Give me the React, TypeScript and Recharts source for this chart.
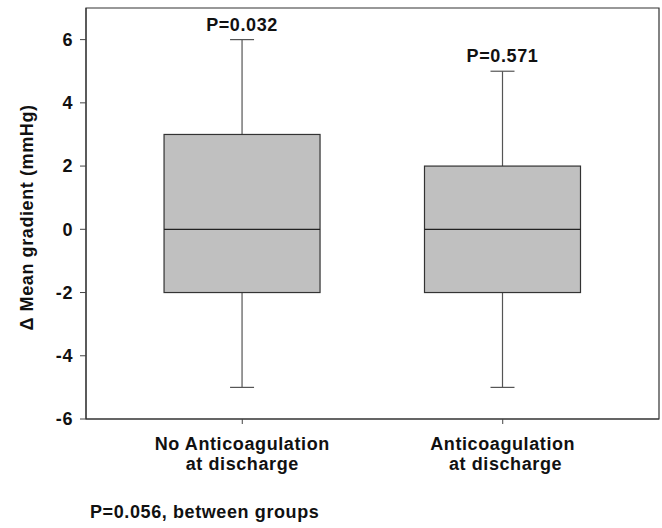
import React from "react";
import {
  ComposedChart,
  Bar,
  XAxis,
  YAxis,
  ReferenceArea,
} from "recharts";

const groupLines = [
  ["No Anticoagulation", "at discharge"],
  ["Anticoagulation", " at discharge"],
];
const groupPos = [1, 2];
const whiskerLow = [-5, -5];
const q1 = [-2, -2];
const median = [0, 0];
const q3 = [3, 2];
const whiskerHigh = [6, 5];
const pLabels = ["P=0.032", "P=0.571"];
const yTicks = [-6, -4, -2, 0, 2, 4, 6];
const footnote = "P=0.056, between groups";

const data = groupPos.map((pos, i) => ({
  pos,
  lines: groupLines[i],
  min: whiskerLow[i],
  q1: q1[i],
  median: median[i],
  q3: q3[i],
  max: whiskerHigh[i],
  p: pLabels[i],
}));

const FONT = "'Liberation Sans', Arial, sans-serif";
const textStyle = { fontFamily: FONT, fontWeight: 700, fontSize: 18, letterSpacing: 0.6 };

const BoxShape = (props: any) => {
  const { x, y, width, height, payload } = props;
  const top = Math.min(y, y + height);
  const bottom = Math.max(y, y + height);
  const { min, max } = payload;
  const toY = (v: number) => top + ((max - v) / (max - min)) * (bottom - top);
  const cx = x + width / 2;
  const cap = 12;
  return (
    <g>
      <line x1={cx} x2={cx} y1={toY(max)} y2={toY(payload.q3)} stroke="#555" strokeWidth={1.2} />
      <line x1={cx} x2={cx} y1={toY(payload.q1)} y2={toY(min)} stroke="#555" strokeWidth={1.2} />
      <line x1={cx - cap} x2={cx + cap} y1={toY(max)} y2={toY(max)} stroke="#555" strokeWidth={1.2} />
      <line x1={cx - cap} x2={cx + cap} y1={toY(min)} y2={toY(min)} stroke="#555" strokeWidth={1.2} />
      <rect
        x={x}
        y={toY(payload.q3)}
        width={width}
        height={toY(payload.q1) - toY(payload.q3)}
        fill="#c0c0c0"
        stroke="#333"
        strokeWidth={1.2}
      />
      <line x1={x} x2={x + width} y1={toY(payload.median)} y2={toY(payload.median)} stroke="#222" strokeWidth={1.2} />
      <text x={cx} y={toY(max) - 9} textAnchor="middle" fill="#111" style={textStyle}>
        {payload.p}
      </text>
    </g>
  );
};

const XTick = (props: any) => {
  const { x, y, payload } = props;
  const idx = groupPos.indexOf(payload.value);
  const lines = idx >= 0 ? groupLines[idx] : [];
  return (
    <g>
      {lines.map((l, i) => (
        <text key={i} x={x} y={y + 24 + i * 20} textAnchor="middle" fill="#111" style={{ ...textStyle, whiteSpace: "pre" }}>
          {l}
        </text>
      ))}
    </g>
  );
};

const YLabel = (props: any) => {
  const { viewBox } = props;
  const cx = viewBox.x + 27;
  const cy = viewBox.y + viewBox.height / 2 + 4;
  return (
    <text x={cx} y={cy} transform={`rotate(-90, ${cx}, ${cy})`} textAnchor="middle" dominantBaseline="central" fill="#111" style={textStyle}>
      Δ Mean gradient (mmHg)
    </text>
  );
};

export default function App() {
  return (
    <div style={{ position: "absolute", left: 0, top: 0, width: 662, height: 528, background: "#fff" }}>
      <ComposedChart
        width={662}
        height={528}
        data={data}
        margin={{ top: 8, right: 3, bottom: 39, left: 0 }}
      >
        <XAxis
          dataKey="pos"
          type="number"
          domain={[0.4, 2.6]}
          ticks={groupPos}
          allowDataOverflow
          height={70}
          tickSize={5}
          tickLine={{ stroke: "#444" }}
          axisLine={{ stroke: "#333" }}
          tick={<XTick />}
          interval={0}
        />
        <YAxis
          type="number"
          domain={[-6, 7]}
          ticks={yTicks}
          allowDataOverflow
          width={86}
          tickSize={6}
          tickMargin={7}
          tickLine={{ stroke: "#444" }}
          axisLine={{ stroke: "#333" }}
          tick={{ fill: "#111", fontFamily: FONT, fontWeight: 700, fontSize: 18, letterSpacing: 0.6 }}
          label={<YLabel />}
        />
        <ReferenceArea
          x1={0.4}
          x2={2.6}
          y1={-6}
          y2={7}
          fill="none"
          fillOpacity={0}
          stroke="#333"
          strokeWidth={1.2}
          ifOverflow="visible"
        />
        <Bar
          dataKey={(d: any) => [d.min, d.max]}
          barSize={156}
          shape={<BoxShape />}
          isAnimationActive={false}
        />
      </ComposedChart>
      <div
        style={{
          position: "absolute",
          left: 90,
          top: 502,
          fontFamily: FONT,
          fontWeight: 700,
          fontSize: 18,
          letterSpacing: 0.6,
          color: "#111",
          whiteSpace: "nowrap",
          lineHeight: "20px",
        }}
      >
        {footnote}
      </div>
    </div>
  );
}
